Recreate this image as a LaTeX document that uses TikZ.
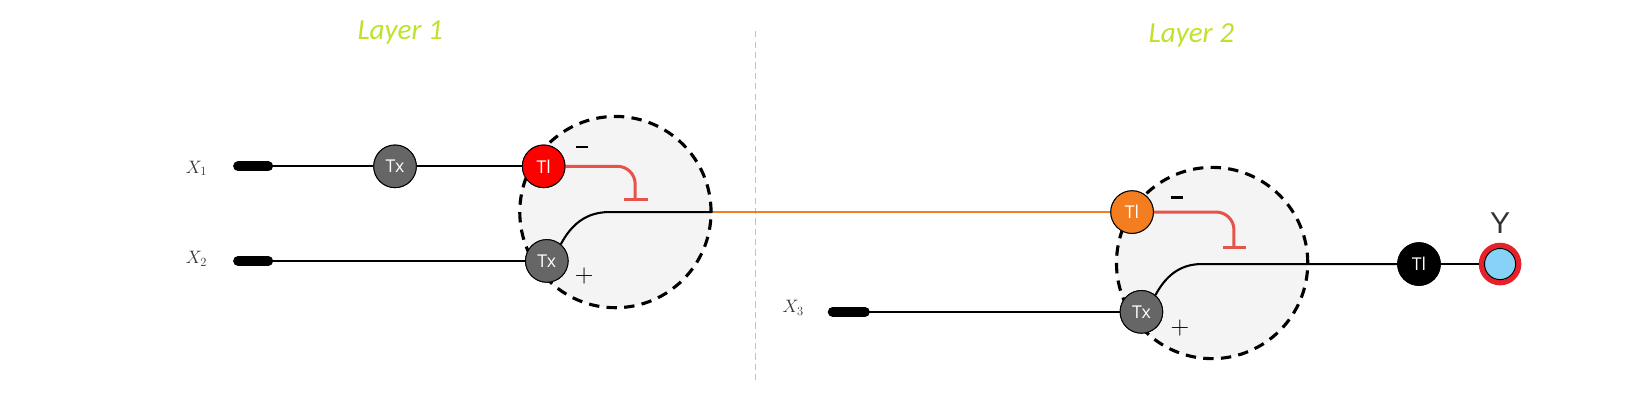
\documentclass[tikz,border=0pt]{standalone}
\usepackage{fontspec}
\newfontfamily\layfont{Carlito}
\newfontfamily\nodefont{Open Sans}
\newfontfamily\yfont{Liberation Sans}
\definecolor{layg}{HTML}{BDE32A}
\definecolor{nodegray}{HTML}{666666}
\definecolor{inhred}{HTML}{E5534B}
\definecolor{orng}{HTML}{F47D20}
\definecolor{cellfill}{HTML}{F4F4F4}
\definecolor{ylblue}{HTML}{87D3F8}
\definecolor{ringred}{HTML}{E8202A}
\tikzset{
  unit/.style={circle, draw=black, line width=0.9pt, minimum size=41pt, inner sep=0pt,
    text=white, font=\nodefont\fontsize{17}{17}\selectfont},
  txnode/.style={unit, fill=nodegray},
  cell/.style={circle, draw=black, fill=cellfill, line width=3pt, dash pattern=on 10pt off 7pt,
    minimum size=184pt, inner sep=0pt},
  wire/.style={draw=black, line width=2pt},
  term/.style={draw=black, line width=9.5pt, line cap=round},
  inh/.style={draw=inhred, line width=2.9pt, rounded corners=17pt},
  inhbar/.style={draw=inhred, line width=3.4pt},
  xlab/.style={text=black!80, font=\fontsize{17}{17}\selectfont},
  laylab/.style={text=layg, font=\layfont\itshape\fontsize{28}{28}\selectfont},
  sign/.style={inner sep=0pt, text=black},
  minusbar/.style={draw=black, line width=2pt}
}
\begin{document}
\begin{tikzpicture}[x=1pt, y=-1pt]
\useasboundingbox (0,0) rectangle (1568,397);
% layer labels and divider
\node[laylab] (lay1) at (385,31) {Layer 1};
\node[laylab] (lay2) at (1146,34) {Layer 2};
\coordinate (divtop) at (727,30);
\coordinate (divbot) at (727,370);
\draw[layg, line width=1.2pt, dash pattern=on 6pt off 4pt] (divtop) -- (divbot);

% cells
\node[cell] (c1) at (592,204) {};
\node[cell] (c2) at (1166,253) {};

% inputs
\node[xlab] (x1) at (189,162) {$X_1$};
\node[xlab] (x2) at (189,249) {$X_2$};
\node[xlab] (x3) at (763,296) {$X_3$};
\coordinate (b1s) at (229,160); \coordinate (b1e) at (258,160);
\coordinate (b2s) at (229,251); \coordinate (b2e) at (258,251);
\coordinate (b3s) at (801,300); \coordinate (b3e) at (832,300);

% nodes (placed first so wires can reference them)
\node[txnode] (tx1) at (380,160) {Tx};
\node[unit, fill=red] (tl1) at (523,160) {Tl};
\node[txnode] (tx2) at (526,251) {Tx};
\node[unit, fill=orng] (tl2) at (1089,204) {Tl};
\node[txnode] (tx3) at (1098,300) {Tx};
\node[unit, fill=black] (tl3) at (1365,254) {Tl};
\node[circle, draw=ringred, line width=5pt, minimum size=36pt, inner sep=0pt] (yring) at (1443,254) {};

% wires
\draw[wire] (b1e) -- (tx1) -- (tl1);
\draw[wire] (b2e) -- (tx2);
\draw[wire] (b3e) -- (tx3);
\draw[term] (b1s) -- (b1e);
\draw[term] (b2s) -- (b2e);
\draw[term] (b3s) -- (b3e);

\coordinate (o1) at (586,204);
\draw[wire] (tx2.50) to[out=62,in=180] (o1) -- (c1.east);
\draw[draw=orng, line width=2.2pt] (c1.east) -- (tl2);
\coordinate (o2) at (1156,254);
\draw[wire] (tx3.50) to[out=62,in=180] (o2) -- (tl3);
\draw[wire] (tl3) -- (yring);

% inhibitory connections
\coordinate (i1k) at (611,160);
\coordinate (i1e) at (611,192);
\coordinate (i1a) at (600,192);
\coordinate (i1b) at (623,192);
\draw[inh] (tl1.east) -- (i1k) -- (i1e);
\draw[inhbar] (i1a) -- (i1b);
\coordinate (i2k) at (1187,204);
\coordinate (i2e) at (1187,238);
\coordinate (i2a) at (1176,238);
\coordinate (i2b) at (1199,238);
\draw[inh] (tl2.east) -- (i2k) -- (i2e);
\draw[inhbar] (i2a) -- (i2b);

% redraw nodes on top
\node[txnode] at (tx1) {Tx};
\node[unit, fill=red] at (tl1) {Tl};
\node[txnode] at (tx2) {Tx};
\node[unit, fill=orng] at (tl2) {Tl};
\node[txnode] at (tx3) {Tx};
\node[unit, fill=black] at (tl3) {Tl};
\node[circle, draw=black, fill=ylblue, line width=1pt, minimum size=30pt, inner sep=0pt] (y) at (yring) {};
\node[text=black!80, font=\yfont\fontsize{29}{29}\selectfont, inner sep=0pt] (ylab) at (1443,215) {Y};

% signs
\coordinate (m1a) at (554,141); \coordinate (m1b) at (566,141);
\draw[minusbar] (m1a) -- (m1b);
\node[sign, font=\fontsize{24}{24}\selectfont] (p1) at (562,266) {$+$};
\coordinate (m2a) at (1126,190); \coordinate (m2b) at (1138,190);
\draw[minusbar] (m2a) -- (m2b);
\node[sign, font=\fontsize{24}{24}\selectfont] (p2) at (1135,316) {$+$};
\end{tikzpicture}
\end{document}
